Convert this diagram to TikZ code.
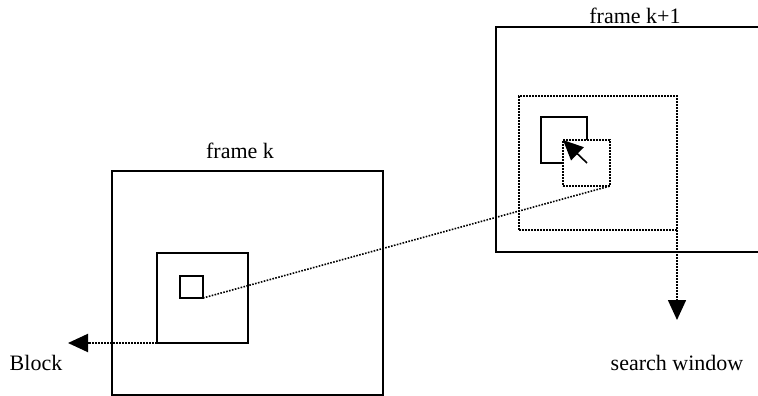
\documentclass[tikz,border=0pt]{standalone}
\usepackage{fontspec}
\setmainfont{Liberation Serif}
\usetikzlibrary{arrows.meta}
\begin{document}
\begin{tikzpicture}[x=1pt,y=-1pt,
  box/.style={draw, line width=1.6pt, inner sep=0pt, outer sep=0pt, anchor=north west},
  dotbox/.style={box, dash pattern=on 1.6pt off 1.4pt},
  dotline/.style={line width=1.6pt, dash pattern=on 1.6pt off 1.4pt},
  tip/.style={-{Triangle[length=20pt,width=18pt]}},
  lbl/.style={font=\fontsize{22}{26}\selectfont, anchor=base, inner sep=0pt}]
\useasboundingbox (0,0) rectangle (758,396);
\clip (0,0) rectangle (758,396);
% frame k with search area and block
\node[box, minimum width=271pt, minimum height=224pt] (fk) at (112,171) {};
\node[box, minimum width=91pt, minimum height=90pt] (area) at (157,253) {};
\node[box, minimum width=23pt, minimum height=22pt] (bk) at (180,276) {};
% frame k+1 (runs past the right edge)
\node[box, minimum width=280pt, minimum height=225pt] (fk1) at (496,27) {};
\node[dotbox, minimum width=158pt, minimum height=134pt] (sw) at (519,96) {};
\node[box, minimum width=46pt, minimum height=46pt] (blk) at (541,117) {};
\node[dotbox, fill=white, minimum width=47pt, minimum height=46pt] (cand) at (563,140) {};
% labels
\node[lbl] (lk) at (240,158) {frame k};
\node[lbl] (lk1) at (635,24) {frame k+1};
\node[lbl] (lblock) at (36,370) {Block};
\node[lbl] (lsw) at (677,370) {search window};
% connectors
\draw[dotline] (bk.south east) -- (cand.south east);
\draw[dotline, line width=2pt, tip] (area.south west) -- (68,343) coordinate (bt);
\draw[dotline, tip] (sw.south east) -- (677,320) coordinate (st);
\draw[line width=1.6pt, tip] (blk.south east) -- (cand.north west);
\end{tikzpicture}
\end{document}
